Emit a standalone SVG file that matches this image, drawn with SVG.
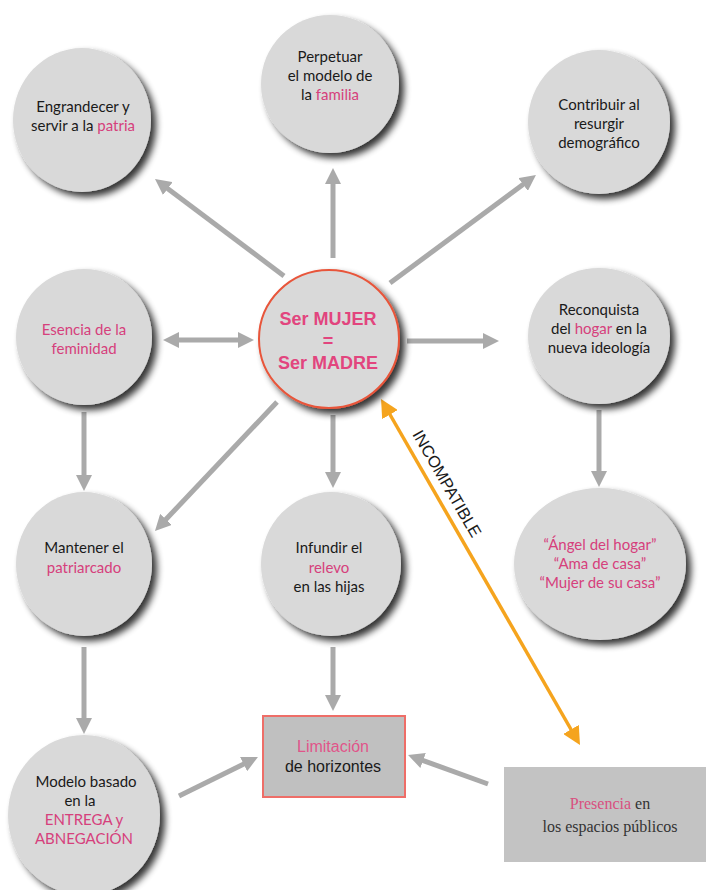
<svg xmlns="http://www.w3.org/2000/svg" width="706" height="890" viewBox="0 0 706 890">
<defs>
<filter id="sh" x="-20%" y="-20%" width="150%" height="150%">
<feGaussianBlur in="SourceAlpha" stdDeviation="3.5"/>
<feOffset dx="5" dy="5" result="b"/>
<feComponentTransfer><feFuncA type="linear" slope="0.8"/></feComponentTransfer>
<feMerge><feMergeNode/><feMergeNode in="SourceGraphic"/></feMerge>
</filter>
<marker id="ag" viewBox="0 0 16 16" refX="2" refY="8" markerWidth="16" markerHeight="16" markerUnits="userSpaceOnUse" orient="auto-start-reverse">
<path d="M0,0 L16,8 L0,16 z" fill="#aaaaaa"/>
</marker>
<marker id="ao" viewBox="0 0 18 18" refX="3" refY="9" markerWidth="18" markerHeight="18" markerUnits="userSpaceOnUse" orient="auto-start-reverse">
<path d="M0,0 L18,9 L0,18 z" fill="#f5a41e"/>
</marker>
</defs>
<style>
.c{fill:#d9d9d9;filter:url(#sh)}
.t{font-family:Lato,"Open Sans",sans-serif;font-size:15px;fill:#1a1a1a;text-anchor:middle}
.p{fill:#d6407c}
.g{stroke:#aaaaaa;stroke-width:5;fill:none;marker-end:url(#ag)}
.h{font-family:"Liberation Sans",Arial,sans-serif;text-anchor:middle}
</style>
<rect width="706" height="890" fill="#ffffff"/>
<g id="connectors">
<line class="g" x1="284" y1="276" x2="166.2" y2="187.4"/>
<line class="g" x1="333" y1="258" x2="333" y2="182"/>
<line class="g" x1="390" y1="283" x2="524.7" y2="183.3"/>
<line class="g" x1="177" y1="340" x2="240" y2="340" style="marker-start:url(#ag)"/>
<line class="g" x1="407" y1="341" x2="485" y2="341"/>
<line class="g" x1="277" y1="402" x2="164.6" y2="520.8"/>
<line class="g" x1="333" y1="415" x2="333" y2="474"/>
<line class="g" x1="84" y1="412" x2="84" y2="477"/>
<line class="g" x1="599" y1="410" x2="599" y2="473"/>
<line class="g" x1="84" y1="647" x2="84" y2="720"/>
<line class="g" x1="333" y1="647" x2="333" y2="697"/>
<line class="g" x1="179" y1="796" x2="245.4" y2="763.2"/>
<line class="g" x1="488" y1="784" x2="421.2" y2="759.8"/>
<line x1="388.5" y1="412" x2="572.5" y2="732" stroke="#f5a41e" stroke-width="3.5" marker-start="url(#ao)" marker-end="url(#ao)"/>
<text class="h" font-size="16.5" fill="#1a1a1a" transform="translate(436,490) rotate(60)" x="0" y="-7">INCOMPATIBLE</text>
</g>
<g id="engrandecer">
<ellipse class="c" cx="82" cy="120" rx="69" ry="72"/>
<text class="t" x="83" y="112">Engrandecer y</text>
<text class="t" x="83" y="131">servir a la <tspan class="p">patria</tspan></text>
</g>
<g id="perpetuar">
<ellipse class="c" cx="330" cy="84" rx="69" ry="69"/>
<text class="t" x="330" y="62">Perpetuar</text>
<text class="t" x="330" y="81">el modelo de</text>
<text class="t" x="330" y="100">la <tspan class="p">familia</tspan></text>
</g>
<g id="contribuir">
<ellipse class="c" cx="599" cy="122" rx="71" ry="72"/>
<text class="t" x="599" y="110">Contribuir al</text>
<text class="t" x="599" y="129">resurgir</text>
<text class="t" x="599" y="148">demográfico</text>
</g>
<g id="esencia">
<ellipse class="c" cx="84" cy="337" rx="68" ry="68"/>
<text class="t p" x="84" y="335">Esencia de la</text>
<text class="t p" x="84" y="354">feminidad</text>
</g>
<g id="centro">
<ellipse cx="329" cy="339" rx="70" ry="69" fill="#d9d9d9" stroke="#e8553a" stroke-width="2" filter="url(#sh)"/>
<text class="h" font-size="18" font-weight="bold" fill="#e2457e" x="328" y="325">Ser MUJER</text>
<text class="h" font-size="18" font-weight="bold" fill="#e2457e" x="328" y="347">=</text>
<text class="h" font-size="18" font-weight="bold" fill="#e2457e" x="328" y="369">Ser MADRE</text>
</g>
<g id="reconquista">
<ellipse class="c" cx="599" cy="336" rx="71" ry="68"/>
<text class="t" x="599" y="315">Reconquista</text>
<text class="t" x="599" y="334">del <tspan class="p">hogar</tspan> en la</text>
<text class="t" x="599" y="353">nueva ideología</text>
</g>
<g id="mantener">
<ellipse class="c" cx="84" cy="564" rx="68" ry="72"/>
<text class="t" x="84" y="553">Mantener el</text>
<text class="t p" x="84" y="573">patriarcado</text>
</g>
<g id="infundir">
<ellipse class="c" cx="331" cy="564" rx="70" ry="72"/>
<text class="t" x="329" y="553">Infundir el</text>
<text class="t p" x="329" y="573">relevo</text>
<text class="t" x="329" y="592">en las hijas</text>
</g>
<g id="angel">
<ellipse class="c" cx="600" cy="564" rx="86" ry="76"/>
<text class="t p" x="600" y="550">“Ángel del hogar”</text>
<text class="t p" x="600" y="569">“Ama de casa”</text>
<text class="t p" x="600" y="588">“Mujer de su casa”</text>
</g>
<g id="modelo">
<ellipse class="c" cx="84" cy="815" rx="76" ry="80"/>
<text class="t" x="86" y="787">Modelo basado</text>
<text class="t" x="80" y="806">en la</text>
<text class="t p" x="84" y="825">ENTREGA y</text>
<text class="t p" x="84" y="844">ABNEGACIÓN</text>
</g>
<g id="limitacion">
<rect x="263" y="716" width="142" height="81" fill="#c0c0c0" stroke="#ee6e68" stroke-width="2"/>
<text class="h" font-size="16" fill="#e0558a" x="333" y="752">Limitación</text>
<text class="h" font-size="16" fill="#1a1a1a" x="333" y="772">de horizontes</text>
</g>
<g id="presencia">
<rect x="504" y="767" width="202" height="95" fill="#c3c3c3"/>
<text font-family="'Liberation Serif','Times New Roman',serif" font-size="16" fill="#333333" text-anchor="middle" x="610" y="809"><tspan fill="#d9507f">Presencia</tspan> en</text>
<text font-family="'Liberation Serif','Times New Roman',serif" font-size="16" fill="#333333" text-anchor="middle" x="610" y="832">los espacios públicos</text>
</g>
</svg>
